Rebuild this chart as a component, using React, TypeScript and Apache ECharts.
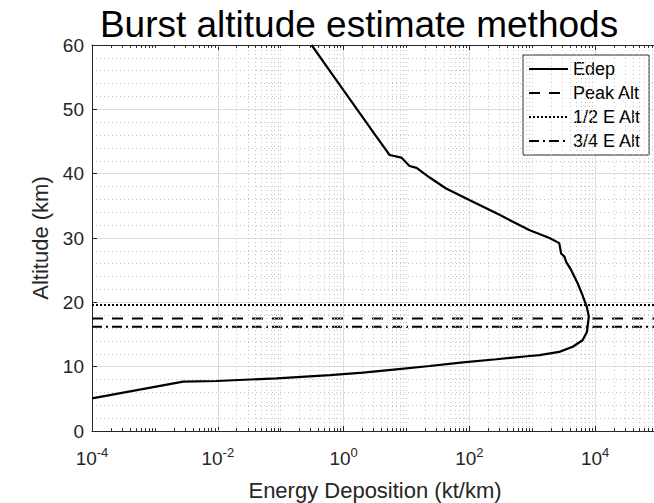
import React, { useEffect, useRef } from "react";
import * as echarts from "echarts";

// ---- data ----
const altitudeKm = [
  60, 55, 50, 46, 42.9, 42.5, 41.2, 40.9, 39.4, 37.7, 35.9, 33.6, 31.2, 30.0,
  29.2, 27.6, 27.1, 26.3, 25.0, 23.0, 21.1, 19.3, 17.8, 16.2, 15.4, 14.1, 13.1,
  12.3, 11.8, 11.66, 11.15, 10.68, 10.1, 9.59, 9.06, 8.7, 8.19, 7.77, 7.67, 5.08,
];
const energyKtPerKm = [
  0.31, 0.71, 1.64, 3.2, 5.4, 8.3, 11.2, 14.5, 23.4, 42.7, 100, 302, 912, 1884,
  2690, 2880, 3250, 3460, 4170, 5250, 6310, 7380, 7940, 7590, 7410, 6310, 4420,
  2690, 1300, 912, 269, 79.4, 23.4, 6.9, 2.04, 0.61, 0.0871, 0.00955, 0.00282,
  0.0001,
];
const peakAltKm = 17.5;
const halfEAltKm = 19.6;
const threeQuarterEAltKm = 16.2;
const xRange = [1e-4, 1e5];
const yRange = [0, 60];
const seriesNames = ["Edep", "Peak Alt", "1/2 E Alt", "3/4 E Alt"];
const titleText = "Burst altitude estimate methods";
const xAxisTitle = "Energy Deposition (kt/km)";
const yAxisTitle = "Altitude (km)";

const FONT = "'Liberation Sans', Arial, Helvetica, sans-serif";
const AXIS = "#262626";

// minor grid / minor tick positions for the log axis (2..9 x 10^k and odd decades)
const minorXGrid: number[] = [];
for (let k = -4; k <= 4; k++) {
  for (let m = 1; m <= 9; m++) {
    if (m === 1 && Math.abs(k) % 2 === 0) continue;
    minorXGrid.push(m * Math.pow(10, k));
  }
}
const minorTickLenKm = 0.45;

const edepData = energyKtPerKm.map((e, i) => [e, altitudeKm[i]]);
const hline = (y: number) => xRange.map((x) => [x, y]);

const minorTickSegments: any[] = [];
minorXGrid.forEach((x) => {
  minorTickSegments.push([{ coord: [x, yRange[0]] }, { coord: [x, yRange[0] + minorTickLenKm] }]);
  minorTickSegments.push([{ coord: [x, yRange[1]] }, { coord: [x, yRange[1] - minorTickLenKm] }]);
});

const option: any = {
  animation: false,
  backgroundColor: "#fff",
  graphic: [
    {
      type: "text",
      x: 359,
      y: 24,
      style: {
        text: titleText,
        fontSize: 37,
        fontFamily: FONT,
        fill: "#000",
        align: "center",
        verticalAlign: "middle",
      },
    },
  ],
  grid: {
    left: 92,
    right: -4,
    top: 45,
    bottom: 72,
    show: false,
    containLabel: false,
    outerBoundsMode: "none",
  },
  legend: {
    orient: "vertical",
    left: 523,
    top: 55,
    itemWidth: 39,
    itemHeight: 14,
    itemGap: 6,
    padding: [5, 8, 5, 5],
    backgroundColor: "#fff",
    borderColor: AXIS,
    borderWidth: 1,
    borderRadius: 0,
    itemStyle: { opacity: 0 },
    textStyle: { fontSize: 18, lineHeight: 18, color: "#000", fontFamily: FONT },
    data: seriesNames,
  },
  xAxis: [
    {
      type: "log",
      logBase: 10,
      min: xRange[0],
      max: xRange[1],
      interval: 2,
      position: "bottom",
      axisLine: { show: true, onZero: false, lineStyle: { color: AXIS, width: 1 } },
      axisTick: { show: true, inside: true, length: 5, lineStyle: { color: AXIS } },
      axisLabel: {
        margin: 15,
        showMaxLabel: false,
        formatter: (v: number) => `{b|10}{s|${Math.round(Math.log10(v))}}`,
        rich: {
          b: { fontSize: 19, fontFamily: FONT, color: AXIS, lineHeight: 22, verticalAlign: "bottom" },
          s: { fontSize: 13, fontFamily: FONT, color: AXIS, lineHeight: 10, verticalAlign: "top" },
        },
      },
      splitLine: { show: true, lineStyle: { color: "#dedede", width: 1 } },
      name: xAxisTitle,
      nameLocation: "middle",
      nameGap: 48,
      nameTextStyle: { fontSize: 22, color: AXIS, fontFamily: FONT },
    },
    {
      type: "log",
      logBase: 10,
      min: xRange[0],
      max: xRange[1],
      interval: 2,
      position: "top",
      axisLine: { show: true, onZero: false, lineStyle: { color: AXIS, width: 1 } },
      axisTick: { show: true, inside: true, length: 5, lineStyle: { color: AXIS } },
      axisLabel: { show: false },
      splitLine: { show: false },
    },
  ],
  yAxis: {
    type: "value",
    min: yRange[0],
    max: yRange[1],
    interval: 10,
    axisLine: { show: true, lineStyle: { color: AXIS, width: 1 } },
    axisTick: { show: true, inside: true, length: 5, lineStyle: { color: AXIS } },
    axisLabel: { fontSize: 19, color: AXIS, fontFamily: FONT, margin: 8 },
    splitLine: { show: true, lineStyle: { color: "#dedede", width: 1 } },
    minorTick: { show: false, splitNumber: 5 },
    minorSplitLine: { show: true, lineStyle: { color: "#c4c4c4", width: 1, type: [1, 3] } },
    name: yAxisTitle,
    nameLocation: "middle",
    nameGap: 28,
    nameTextStyle: { fontSize: 22, color: AXIS, fontFamily: FONT },
  },
  series: [
    {
      name: "minor-grid",
      type: "line",
      data: [],
      z: 1,
      silent: true,
      markLine: {
        silent: true,
        symbol: ["none", "none"],
        label: { show: false },
        emphasis: { disabled: true },
        lineStyle: { color: "#c4c4c4", width: 1, type: [1, 3] },
        data: minorXGrid.map((x) => ({ xAxis: x })),
      },
    },
    {
      name: "minor-ticks",
      type: "line",
      data: [],
      z: 6,
      silent: true,
      markLine: {
        silent: true,
        symbol: ["none", "none"],
        label: { show: false },
        emphasis: { disabled: true },
        lineStyle: { color: AXIS, width: 1, type: "solid" },
        data: minorTickSegments,
      },
    },
    {
      name: seriesNames[0],
      type: "line",
      data: edepData,
      showSymbol: false,
      symbol: "none",
      z: 5,
      lineStyle: { color: "#000", width: 2.2, type: "solid" },
      itemStyle: { color: "#000" },
    },
    {
      name: seriesNames[1],
      type: "line",
      data: hline(peakAltKm),
      showSymbol: false,
      symbol: "none",
      z: 4,
      lineStyle: { color: "#000", width: 2, type: [11, 9] },
      itemStyle: { color: "#000" },
    },
    {
      name: seriesNames[2],
      type: "line",
      data: hline(halfEAltKm),
      showSymbol: false,
      symbol: "none",
      z: 4,
      lineStyle: { color: "#000", width: 2, type: [2, 2] },
      itemStyle: { color: "#000" },
    },
    {
      name: seriesNames[3],
      type: "line",
      data: hline(threeQuarterEAltKm),
      showSymbol: false,
      symbol: "none",
      z: 4,
      lineStyle: { color: "#000", width: 2, type: [10, 4, 2, 4] },
      itemStyle: { color: "#000" },
    },
  ],
};

export default function App() {
  const ref = useRef<HTMLDivElement>(null);
  useEffect(() => {
    if (!ref.current) return;
    const chart = echarts.init(ref.current, null, { renderer: "svg" });
    chart.setOption(option);
    return () => chart.dispose();
  }, []);
  return (
    <div
      ref={ref}
      style={{ position: "fixed", left: 0, top: 0, width: 654, height: 503, background: "#fff" }}
    />
  );
}
